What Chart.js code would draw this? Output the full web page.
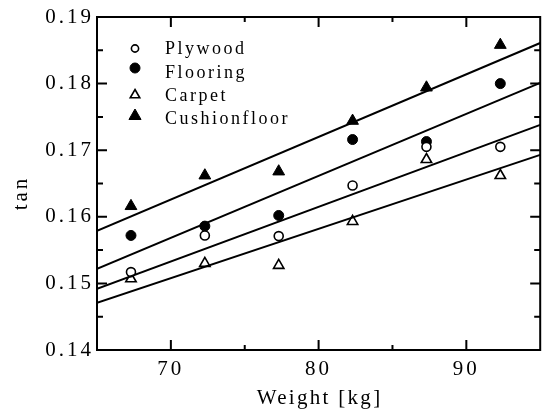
<!DOCTYPE html>
<html><head><meta charset="utf-8">
<script src="https://cdn.jsdelivr.net/npm/chart.js@4/dist/chart.umd.min.js"></script>
<style>html,body{margin:0;padding:0;background:#fff}canvas{display:block}</style>
</head><body>
<canvas id="c" width="548" height="412"></canvas>
<script>
// ---- data ----
const weights = [67.3, 72.3, 77.3, 82.3, 87.3, 92.3];
const plywood  = [0.1517, 0.1572, 0.1571, 0.1647, 0.1705, 0.1705];
const flooring = [0.1572, 0.1586, 0.1602, 0.1716, 0.1713, 0.1800];
const carpet   = [0.1507, 0.1530, 0.1527, 0.1593, 0.1686, 0.1662];
const cushion  = [0.1616, 0.1662, 0.1668, 0.1744, 0.1794, 0.1858];

const fitX = [65, 95];
const plywoodFit  = [0.1492, 0.1738];
const flooringFit = [0.1522, 0.1801];
const carpetFit   = [0.1471, 0.1693];
const cushionFit  = [0.1579, 0.1861];

const seriesNames = ['Plywood', 'Flooring', 'Carpet', 'Cushionfloor'];
const xTicks = [70, 80, 90];
const xMinorTicks = [75, 85];
const yTicks = [0.14, 0.15, 0.16, 0.17, 0.18, 0.19];
const yMinorTicks = [0.145, 0.155, 0.165, 0.175, 0.185];
const xTitle = 'Weight [kg]';
const yTitle = 'tan';

// ---- styling ----
const FONT = '"Liberation Serif", "Times New Roman", serif';
const TICK_SIZE = 21;
const LS = '3px';
const TITLE_LS = '2.3px';
const LEG_LS = '2.5px';
const pts = (xs, ys) => xs.map((x, i) => ({x: x, y: ys[i]}));

const markerStyles = [
  {style: 'circle', r: 4.5, fill: '#fff', lw: 1.6, legR: 3.6},
  {style: 'circle', r: 5, fill: '#000', lw: 1, legR: 5},
  {style: 'triangle', r: 6, fill: '#fff', lw: 1.6, legR: 5.5},
  {style: 'triangle', r: 6.8, fill: '#000', lw: 1, legR: 7}
];

function drawMarker(ctx, m, x, y, r) {
  ctx.beginPath();
  if (m.style === 'circle') {
    ctx.arc(x, y, r, 0, Math.PI * 2);
  } else {
    let a = 0;
    ctx.moveTo(x + Math.sin(a) * r, y - Math.cos(a) * r);
    a += 2 * Math.PI / 3;
    ctx.lineTo(x + Math.sin(a) * r, y - Math.cos(a) * r);
    a += 2 * Math.PI / 3;
    ctx.lineTo(x + Math.sin(a) * r, y - Math.cos(a) * r);
    ctx.closePath();
  }
  ctx.fillStyle = m.fill;
  ctx.fill();
  ctx.lineWidth = m.lw;
  ctx.strokeStyle = '#000';
  ctx.stroke();
}

const spacing = {
  id: 'spacing',
  beforeUpdate(c) { c.ctx.letterSpacing = LS; },
  beforeLayout(c) { c.ctx.letterSpacing = LS; },
  beforeDraw(c) { c.ctx.letterSpacing = LS; }
};

const frame = {
  id: 'frame',
  afterDraw(c) {
    const ctx = c.ctx, a = c.chartArea, x = c.scales.x, y = c.scales.y;
    ctx.save();
    ctx.strokeStyle = '#000';
    ctx.lineWidth = 2;
    ctx.strokeRect(a.left, a.top, a.right - a.left, a.bottom - a.top);
    ctx.beginPath();
    const xt = (v, len) => {
      const p = x.getPixelForValue(v);
      ctx.moveTo(p, a.bottom); ctx.lineTo(p, a.bottom - len);
      ctx.moveTo(p, a.top); ctx.lineTo(p, a.top + len);
    };
    const yt = (v, len) => {
      const p = y.getPixelForValue(v);
      ctx.moveTo(a.left, p); ctx.lineTo(a.left + len, p);
      ctx.moveTo(a.right, p); ctx.lineTo(a.right - len, p);
    };
    xTicks.forEach(v => xt(v, 10));
    xMinorTicks.forEach(v => xt(v, 5));
    yTicks.forEach(v => yt(v, 10));
    yMinorTicks.forEach(v => yt(v, 6));
    ctx.stroke();

    // axis titles
    ctx.fillStyle = '#000';
    ctx.font = TICK_SIZE + 'px ' + FONT;
    ctx.letterSpacing = TITLE_LS;
    ctx.textAlign = 'center';
    ctx.textBaseline = 'alphabetic';
    ctx.fillText(xTitle, (a.left + a.right) / 2 + 1, 404);

    ctx.save();
    ctx.letterSpacing = LS;
    ctx.translate(27, 193);
    ctx.rotate(-Math.PI / 2);
    ctx.fillText(yTitle, 0, 0);
    ctx.restore();

    // legend
    const legX = 135, textX = 165;
    const baselines = [54, 77.5, 101, 124];
    const markY = [48.5, 68, 95, 116];
    ctx.font = '18px ' + FONT;
    ctx.letterSpacing = LEG_LS;
    ctx.textAlign = 'left';
    seriesNames.forEach((name, i) => {
      drawMarker(ctx, markerStyles[i], legX, markY[i], markerStyles[i].legR);
      ctx.fillStyle = '#000';
      ctx.fillText(name, textX, baselines[i]);
    });
    ctx.restore();
    ctx.letterSpacing = LS;
  }
};

const scatterSets = [plywood, flooring, carpet, cushion].map((ys, i) => {
  const m = markerStyles[i];
  return {
    label: seriesNames[i],
    data: pts(weights, ys),
    showLine: false,
    pointStyle: m.style,
    pointRadius: m.r,
    pointBorderWidth: m.lw,
    pointBackgroundColor: m.fill,
    pointBorderColor: '#000'
  };
});
const fitSets = [plywoodFit, flooringFit, carpetFit, cushionFit].map((ys, i) => ({
  label: seriesNames[i] + ' fit',
  data: pts(fitX, ys),
  showLine: true,
  borderColor: '#000',
  borderWidth: 2,
  pointRadius: 0,
  fill: false
}));

new Chart(document.getElementById('c'), {
  type: 'scatter',
  data: {datasets: fitSets.concat(scatterSets)},
  plugins: [spacing, frame],
  options: {
    responsive: false,
    animation: false,
    devicePixelRatio: 1,
    layout: {padding: {top: 17, right: 1, left: 0, bottom: 0}},
    plugins: {legend: {display: false}, tooltip: {enabled: false}},
    scales: {
      x: {
        type: 'linear', min: 65, max: 95,
        afterBuildTicks: s => { s.ticks = xTicks.map(v => ({value: v})); },
        afterFit: s => { s.height = 62; },
        grid: {display: false, drawTicks: false},
        border: {display: false},
        ticks: {padding: 7, color: '#000', font: {family: FONT, size: TICK_SIZE}, maxRotation: 0, callback: v => String(v)},
        title: {display: false}
      },
      y: {
        type: 'linear', min: 0.14, max: 0.19,
        afterBuildTicks: s => { s.ticks = yTicks.map(v => ({value: v})); },
        afterFit: s => { s.width = 97; },
        grid: {display: false, drawTicks: false},
        border: {display: false},
        ticks: {padding: 3, color: '#000', font: {family: FONT, size: TICK_SIZE}, callback: v => Number(v).toFixed(2)}
      }
    }
  }
});
</script>
</body></html>
